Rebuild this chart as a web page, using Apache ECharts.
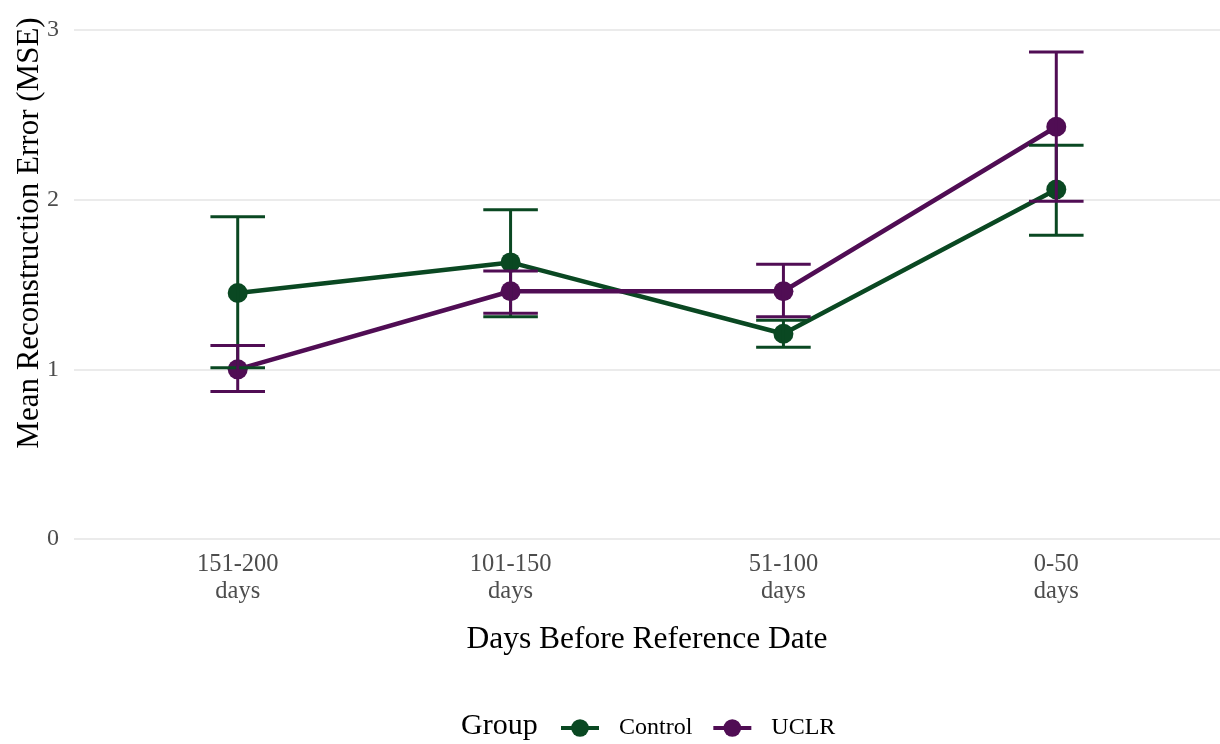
<!DOCTYPE html>
<html>
<head>
<meta charset="utf-8">
<title>Mean Reconstruction Error by Period</title>
<script src="https://cdn.jsdelivr.net/npm/echarts@6/dist/echarts.min.js"></script>
<style>
  html, body { margin: 0; padding: 0; background: #ffffff; }
  #chart { width: 1220px; height: 744px; }
</style>
</head>
<body>
<div id="chart"></div>
<script>
// Periods before the reference date (x axis categories)
const categories = ['151-200\ndays', '101-150\ndays', '51-100\ndays', '0-50\ndays'];
const yTicks = [0, 1, 2, 3];

// Control group: mean and error-bar bounds
const controlMean  = [1.45, 1.63, 1.21, 2.06];
const controlLower = [1.01, 1.31, 1.13, 1.79];
const controlUpper = [1.90, 1.94, 1.29, 2.32];

// UCLR group: mean and error-bar bounds
const uclrMean  = [1.00, 1.46, 1.46, 2.43];
const uclrLower = [0.87, 1.33, 1.31, 1.99];
const uclrUpper = [1.14, 1.58, 1.62, 2.87];

const groupNames = ['Control', 'UCLR'];
const groupColors = ['#0a4822', '#500d54'];

const FONT = "'Liberation Serif', 'Times New Roman', serif";
const CAP_HALF = 0.1; // half width of the error-bar caps, in category units

function points(values) {
  return values.map((v, i) => [i, v]);
}
function bars(lower, upper) {
  return lower.map((lo, i) => [i, lo, upper[i]]);
}

function errorBarRenderer(color) {
  return function (params, api) {
    const x = api.value(0);
    const lo = api.value(1);
    const hi = api.value(2);
    const pTop = api.coord([x, hi]);
    const pBot = api.coord([x, lo]);
    const xl = api.coord([x - CAP_HALF, hi])[0];
    const xr = api.coord([x + CAP_HALF, hi])[0];
    const style = { stroke: color, lineWidth: 3, fill: null };
    return {
      type: 'group',
      children: [
        { type: 'line', shape: { x1: pTop[0], y1: pTop[1], x2: pBot[0], y2: pBot[1] }, style },
        { type: 'line', shape: { x1: xl, y1: pTop[1], x2: xr, y2: pTop[1] }, style },
        { type: 'line', shape: { x1: xl, y1: pBot[1], x2: xr, y2: pBot[1] }, style }
      ]
    };
  };
}

function lineSeries(name, values, color) {
  return {
    name: name,
    type: 'line',
    data: points(values),
    symbol: 'circle',
    symbolSize: 20,
    z: 2,
    lineStyle: { color: color, width: 4.5 },
    itemStyle: { color: color },
    emphasis: { disabled: true }
  };
}

function errorSeries(name, lower, upper, color) {
  return {
    name: name + ' range',
    type: 'custom',
    data: bars(lower, upper),
    encode: { x: 0, y: [1, 2] },
    renderItem: errorBarRenderer(color),
    z: 3,
    silent: true
  };
}

const chart = echarts.init(document.getElementById('chart'), null, { renderer: 'canvas' });

chart.setOption({
  animation: false,
  backgroundColor: '#ffffff',
  textStyle: { fontFamily: FONT },
  grid: { left: 74, top: 30, width: 1147, height: 509, containLabel: false },
  xAxis: {
    type: 'value',
    min: -0.6,
    max: 3.6,
    name: 'Days Before Reference Date',
    nameLocation: 'middle',
    nameGap: 85,
    nameTextStyle: { fontFamily: FONT, fontSize: 31.5, color: '#000000' },
    axisLine: { show: false },
    axisTick: { show: false },
    splitLine: { show: false },
    axisLabel: {
      customValues: [0, 1, 2, 3],
      formatter: v => categories[Math.round(v)],
      fontFamily: FONT,
      fontSize: 24.5,
      lineHeight: 27,
      color: '#4d4d4d',
      margin: 12
    }
  },
  yAxis: {
    type: 'value',
    min: yTicks[0],
    max: yTicks[yTicks.length - 1],
    interval: 1,
    axisLine: { show: false },
    axisTick: { show: false },
    splitLine: { show: true, lineStyle: { color: '#ebebeb', width: 2 } },
    axisLabel: { fontFamily: FONT, fontSize: 24, color: '#4d4d4d', margin: 15 }
  },
  legend: {
    data: groupNames,
    left: 559,
    top: 716,
    padding: 0,
    orient: 'horizontal',
    itemWidth: 38,
    itemHeight: 22,
    itemGap: 19,
    selectedMode: false,
    lineStyle: { width: 4 },
    textStyle: { fontFamily: FONT, fontSize: 24, color: '#000000', padding: [0, 0, 0, 15] }
  },
  graphic: [
    {
      type: 'text',
      left: 461,
      top: 711,
      style: { text: 'Group', font: '30px ' + FONT, fill: '#000000' }
    },
    {
      type: 'text',
      x: 30,
      y: 233,
      rotation: Math.PI / 2,
      style: {
        text: 'Mean Reconstruction Error (MSE)',
        font: '31px ' + FONT,
        fill: '#000000',
        align: 'center',
        verticalAlign: 'middle'
      }
    }
  ],
  series: [
    lineSeries(groupNames[0], controlMean, groupColors[0]),
    lineSeries(groupNames[1], uclrMean, groupColors[1]),
    errorSeries(groupNames[0], controlLower, controlUpper, groupColors[0]),
    errorSeries(groupNames[1], uclrLower, uclrUpper, groupColors[1])
  ]
});
</script>
</body>
</html>
